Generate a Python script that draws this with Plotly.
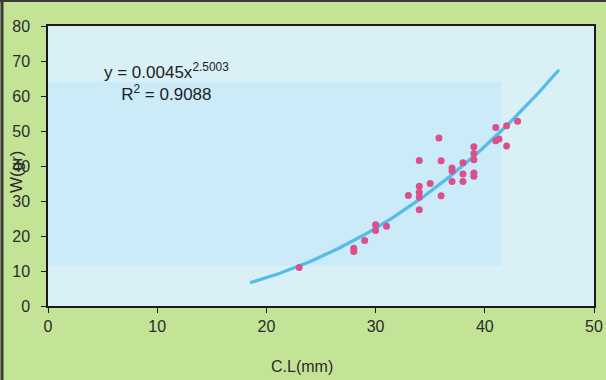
import numpy as np
import plotly.graph_objects as go

# Data
carapace_length = [23, 28, 28, 29, 30, 30, 31, 33, 34, 34, 34, 34, 34, 35, 35.8, 36, 36,
                   37, 37, 37, 38, 38, 38, 39, 39, 39, 39, 39, 41, 41, 41.3, 42, 42, 43]
weight = [11.0, 16.5, 15.6, 18.7, 23.2, 21.6, 22.8, 31.6, 41.6, 34.2, 32.5, 31.1, 27.5, 35.0, 48.0, 41.5, 31.5,
          39.4, 38.6, 35.6, 40.9, 37.7, 35.6, 45.5, 43.6, 41.8, 38.0, 37.1, 51.0, 47.2, 47.7, 51.5, 45.7, 52.8]

# Power trendline as printed on the chart: y = 0.0045 x^2.5003
trend_a = 0.0045
trend_b = 2.5003
trend_x_range = [18.5, 46.8]

x_ticks = [0, 10, 20, 30, 40, 50]
y_ticks = [0, 10, 20, 30, 40, 50, 60, 70, 80]

trend_x = np.linspace(trend_x_range[0], trend_x_range[1], 120)
trend_y = trend_a * trend_x ** trend_b

FONT = "Liberation Sans, Arial, sans-serif"
TXT = "#2b2b2b"
L, R, T, B = 48, 12, 26, 74
PW, PH = 606 - L - R, 380 - T - B


def px_x(p):
    return (p - L) / PW


def px_y(p):
    return 1 - (p - T) / PH


fig = go.Figure()
fig.add_trace(go.Scatter(x=trend_x, y=trend_y, mode="lines",
                         line=dict(color="#55bde8", width=3.3), hoverinfo="skip"))
fig.add_trace(go.Scatter(x=carapace_length, y=weight, mode="markers",
                         marker=dict(color="#d9508c", size=7)))

fig.update_layout(
    width=606, height=380,
    margin=dict(l=L, r=R, t=T, b=B, autoexpand=False),
    paper_bgcolor="#c3e496",
    plot_bgcolor="#daf0f7",
    showlegend=False,
    font=dict(family=FONT, size=16, color=TXT),
    xaxis=dict(range=[0, 50], tickvals=x_ticks, showgrid=False, zeroline=False,
               showline=True, linecolor="#1a1a1a", linewidth=1.5, mirror=True,
               ticks="outside", ticklen=5, tickcolor="#1a1a1a",
               tickfont=dict(size=16, color=TXT), automargin=False),
    yaxis=dict(range=[0, 80], tickvals=y_ticks, showgrid=False, zeroline=False,
               showline=True, linecolor="#1a1a1a", linewidth=1.5, mirror=True,
               ticks="outside", ticklen=5, tickcolor="#1a1a1a", ticklabelstandoff=8,
               tickfont=dict(size=16, color=TXT), automargin=False),
    shapes=[
        # darker blue background patch (scan show-through)
        dict(type="rect", xref="x", yref="y", x0=0, x1=41.5, y0=11.5, y1=64,
             fillcolor="#cbebf9", line=dict(width=0), layer="below"),
        # outer chart border (left & top)
        dict(type="line", xref="paper", yref="paper", x0=px_x(2), x1=px_x(2),
             y0=px_y(380), y1=px_y(0), line=dict(color="#3a3a3a", width=3)),
        dict(type="line", xref="paper", yref="paper", x0=px_x(0), x1=px_x(606),
             y0=px_y(1), y1=px_y(1), line=dict(color="#3a3a3a", width=2)),
    ],
    annotations=[
        dict(text="y = 0.0045x<sup>2.5003</sup><br>R<sup>2</sup> = 0.9088",
             xref="paper", yref="paper", x=px_x(166), y=px_y(82),
             xanchor="center", yanchor="middle",
             showarrow=False, align="center", font=dict(size=17, color="#222")),
        dict(text="W(gr)", textangle=-90, xref="paper", yref="paper",
             x=px_x(16), y=px_y(172), xanchor="center", yanchor="middle", showarrow=False,
             font=dict(size=17, color=TXT)),
        dict(text="C.L(mm)", xref="paper", yref="paper",
             x=px_x(302), y=px_y(367), xanchor="center", yanchor="middle", showarrow=False,
             font=dict(size=16, color=TXT)),
    ],
)

fig.write_html(
    "out.html",
    config={"displayModeBar": False},
    post_script="document.body.style.margin='0';",
)
